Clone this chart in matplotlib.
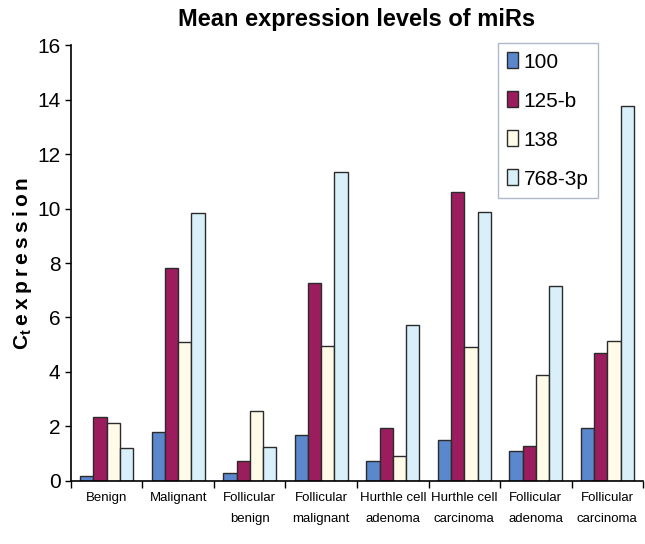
import numpy as np
import matplotlib
matplotlib.use("Agg")
import matplotlib.pyplot as plt

plt.rcParams['font.family'] = ['Liberation Sans', 'DejaVu Sans']
plt.rcParams['mathtext.fontset'] = 'custom'
plt.rcParams['mathtext.rm'] = 'Liberation Sans'
plt.rcParams['mathtext.bf'] = 'Liberation Sans:bold'

categories = ["Benign", "Malignant", "Follicular\nbenign", "Follicular\nmalignant",
              "Hurthle cell\nadenoma", "Hurthle cell\ncarcinoma", "Follicular\nadenoma",
              "Follicular\ncarcinoma"]
series_names = ["100", "125-b", "138", "768-3p"]
mir_100 = [0.18, 1.78, 0.28, 1.68, 0.74, 1.50, 1.10, 1.96]
mir_125b = [2.33, 7.82, 0.74, 7.27, 1.96, 10.60, 1.29, 4.68]
mir_138 = [2.14, 5.09, 2.55, 4.96, 0.92, 4.93, 3.90, 5.15]
mir_768 = [1.19, 9.83, 1.25, 11.34, 5.74, 9.87, 7.14, 13.75]
yticks = [0, 2, 4, 6, 8, 10, 12, 14, 16]

colors = ["#5b87cc", "#9b1d5e", "#fffbe8", "#d9eff9"]
series = [mir_100, mir_125b, mir_138, mir_768]

fig = plt.figure(figsize=(6.45, 5.44), dpi=100)
ax = fig.add_axes([0.110, 0.116, 0.887, 0.801])

x = np.arange(len(categories))
w = 0.185
for i, (vals, c, name) in enumerate(zip(series, colors, series_names)):
    ax.bar(x + (i - 1.5) * w, vals, w, color=c, edgecolor="#2b2b2b",
           linewidth=1.0, label=name)

ax.set_xlim(-0.5, len(categories) - 0.5)
ax.set_ylim(0, 16)
ax.set_yticks(yticks)
ax.tick_params(axis='y', labelsize=15, direction='out', length=4, width=1)
ax.set_xticks(x)
ax.set_xticklabels(categories, fontsize=9.5, linespacing=2.0)
ax.set_xticks(np.arange(len(categories) + 1) - 0.5, minor=True)
ax.tick_params(axis='x', which='major', length=0, pad=8)
ax.tick_params(axis='x', which='minor', length=5, width=1, direction='out')

for s in ['top', 'right']:
    ax.spines[s].set_visible(False)
ax.spines['left'].set_linewidth(1.2)
ax.spines['bottom'].set_linewidth(1.2)

ax.set_title("Mean expression levels of miRs", fontsize=17, fontweight='bold', pad=14)
ylab = "\u2009".join("expression")
ax.set_ylabel(r"$\mathbf{C_t}$" + "\u2009" + ylab, fontsize=15, fontweight='bold', labelpad=2)

leg = ax.legend(loc='upper right', bbox_to_anchor=(0.921, 1.005), fontsize=15,
                frameon=True, fancybox=False, edgecolor="#9aa8c0",
                handlelength=0.55, handleheight=0.8, handletextpad=0.25,
                labelspacing=0.95, borderpad=0.45, borderaxespad=0)
leg.get_frame().set_linewidth(1.0)

fig.savefig("out.png", dpi=100)
